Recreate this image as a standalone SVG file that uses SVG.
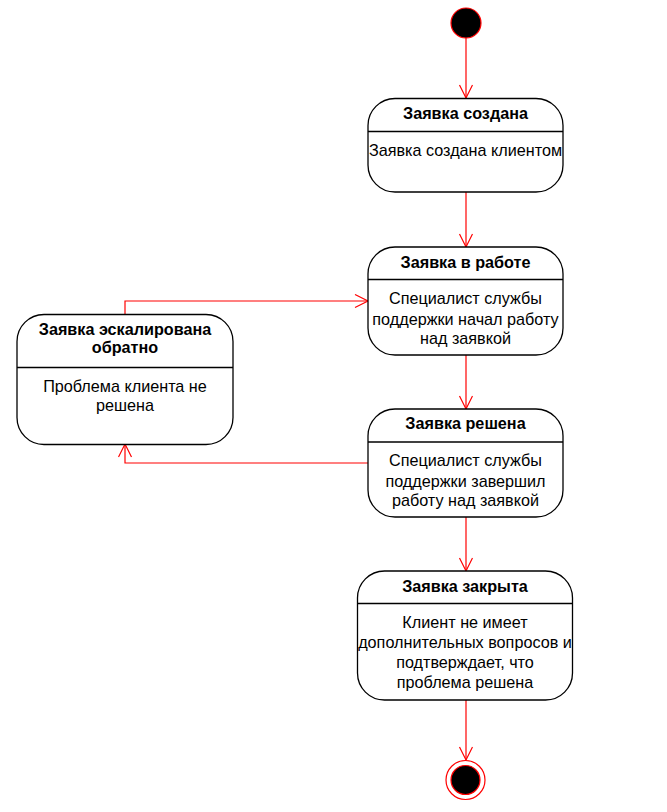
<svg xmlns="http://www.w3.org/2000/svg" width="667" height="812" viewBox="0 0 667 812">
<style>
.box{fill:#fff;stroke:#000;stroke-width:1.3}
.div{stroke:#000;stroke-width:1.3}
.t{font-family:"Liberation Sans",Arial,sans-serif;font-size:16.2px;fill:#000;text-anchor:middle}
.b{font-weight:bold}
.c{fill:none;stroke:#f00;stroke-width:1.2}
</style>
<defs>
<marker id="a" markerWidth="16" markerHeight="16" refX="14" refY="7" orient="auto" markerUnits="userSpaceOnUse">
<path d="M1,0.5 L14,7 L1,13.5" fill="none" stroke="#f00" stroke-width="1.2"/>
</marker>
</defs>
<g id="connectors">
<line class="c" x1="466" y1="38" x2="466" y2="98" marker-end="url(#a)"/>
<line class="c" x1="466" y1="192" x2="466" y2="247" marker-end="url(#a)"/>
<line class="c" x1="466" y1="355" x2="466" y2="409" marker-end="url(#a)"/>
<line class="c" x1="466" y1="517" x2="466" y2="571" marker-end="url(#a)"/>
<line class="c" x1="466" y1="700" x2="466" y2="760" marker-end="url(#a)"/>
<polyline class="c" points="125,314 125,301 368,301" marker-end="url(#a)"/>
<polyline class="c" points="368,463 125,463 125,444" marker-end="url(#a)"/>
</g>
<g id="start"><circle cx="466" cy="23" r="15" fill="#000" stroke="#f00" stroke-width="1.2"/></g>
<g id="s1">
<rect class="box" x="368" y="98.5" width="195" height="93.5" rx="27"/>
<line class="div" x1="368" y1="131.5" x2="563" y2="131.5"/>
<text class="t b" x="465.5" y="118.5">Заявка создана</text>
<text class="t" x="465.5" y="155.5">Заявка создана клиентом</text>
</g>
<g id="s2">
<rect class="box" x="368" y="247" width="195" height="108" rx="27"/>
<line class="div" x1="368" y1="279.5" x2="563" y2="279.5"/>
<text class="t b" x="465.5" y="267.5">Заявка в работе</text>
<text class="t" x="465.5" y="304">Специалист службы</text>
<text class="t" x="465.5" y="325">поддержки начал работу</text>
<text class="t" x="465.5" y="343.5">над заявкой</text>
</g>
<g id="s3">
<rect class="box" x="368" y="409" width="195" height="108" rx="27"/>
<line class="div" x1="368" y1="442" x2="563" y2="442"/>
<text class="t b" x="465.5" y="429">Заявка решена</text>
<text class="t" x="465.5" y="466">Специалист службы</text>
<text class="t" x="465.5" y="487">поддержки завершил</text>
<text class="t" x="465.5" y="506">работу над заявкой</text>
</g>
<g id="s4">
<rect class="box" x="357.5" y="571" width="215" height="129" rx="27"/>
<line class="div" x1="357.5" y1="603.5" x2="572.5" y2="603.5"/>
<text class="t b" x="465" y="591.5">Заявка закрыта</text>
<text class="t" x="465" y="627.5">Клиент не имеет</text>
<text class="t" x="465" y="647.5">дополнительных вопросов и</text>
<text class="t" x="465" y="667.5">подтверждает, что</text>
<text class="t" x="465" y="687.5">проблема решена</text>
</g>
<g id="s5">
<rect class="box" x="17" y="314.5" width="216" height="130" rx="27"/>
<line class="div" x1="17" y1="367.5" x2="233" y2="367.5"/>
<text class="t b" x="125" y="334.5">Заявка эскалирована</text>
<text class="t b" x="125" y="353">обратно</text>
<text class="t" x="125" y="391.5">Проблема клиента не</text>
<text class="t" x="125" y="410.5">решена</text>
</g>
<g id="end">
<circle cx="465.5" cy="780" r="19.5" fill="#fff" stroke="#f00" stroke-width="1.2"/>
<circle cx="465.5" cy="780" r="14.5" fill="#000" stroke="#f00" stroke-width="1.2"/>
</g>
</svg>
